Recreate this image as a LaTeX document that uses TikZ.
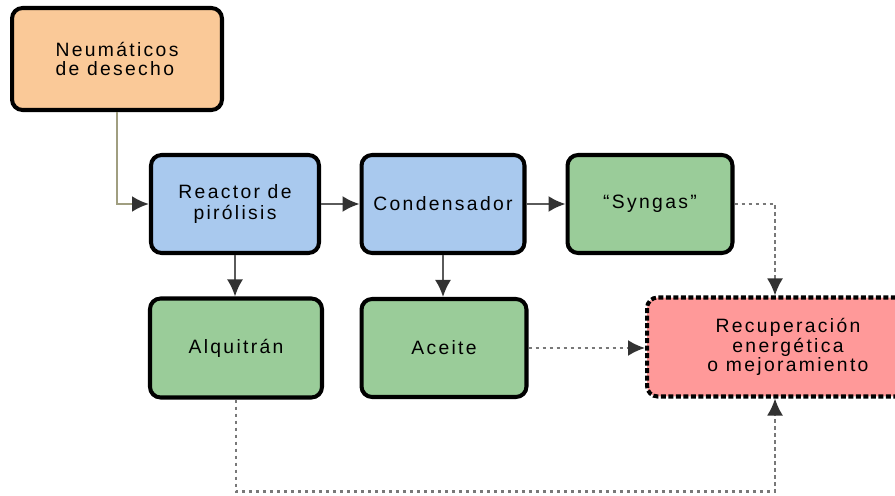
\documentclass[tikz,border=0pt]{standalone}
\usepackage{fontspec}
\setmainfont{Liberation Sans}[LetterSpace=12]
\usepackage{xcolor}
\usepackage{tikz}
\usetikzlibrary{calc, positioning, arrows.meta}

\definecolor{boxorange}{RGB}{250,201,152}
\definecolor{boxblue}{RGB}{169,201,238}
\definecolor{boxgreen}{RGB}{154,204,153}
\definecolor{boxred}{RGB}{255,153,153}
\definecolor{linegray}{RGB}{90,90,90}
\definecolor{dotgray}{RGB}{120,120,120}
\definecolor{linefeed}{RGB}{160,158,128}
\definecolor{tipgray}{RGB}{50,50,50}

\tikzset{
	block/.style={draw=black, line width=2.3pt, rounded corners=6pt, align=center,
		font=\fontsize{11}{11}\selectfont, inner sep=2pt},
	flow/.style={-{Latex[length=0.34cm, width=0.32cm, color=tipgray]}, line width=1.2pt, draw=linegray},
	dotflow/.style={flow, draw=dotgray, dash pattern=on 0.07cm off 0.07cm},
}

\begin{document}
\begin{tikzpicture}[x=0.02cm, y=0.02cm]
		\clip (0,0) rectangle (895,-496);
		\useasboundingbox (0,0) rectangle (895,-496);

		\node[block, fill=boxorange, minimum width=4.2cm, minimum height=2.04cm, align=left] (neu) at (117,-59) {Neumáticos\\de desecho};
		\node[block, fill=boxblue, minimum width=3.36cm, minimum height=1.96cm, font=\fontsize{11}{12.5}\selectfont] (reactor) at (235,-204) {Reactor de\\pirólisis};
		\node[block, fill=boxblue, minimum width=3.26cm, minimum height=1.96cm] (cond) at (443,-204) {Condensador};
		\node[block, fill=boxgreen, minimum width=3.3cm, minimum height=1.96cm] (syngas) at (650,-204) {“Syngas”};
		\node[block, fill=boxgreen, minimum width=3.44cm, minimum height=1.98cm] (alq) at (236,-348) {Alquitrán};
		\node[block, fill=boxgreen, minimum width=3.3cm, minimum height=1.96cm] (aceite) at (444,-348) {Aceite};
		\node[block, fill=boxred, dash pattern=on 0.1cm off 0.05cm, minimum width=5.64cm, minimum height=1.98cm] (rec) at (788,-347) {Recuperación\\energética\\o mejoramiento};

		\draw[flow, draw=linefeed, line width=1.5pt] (neu.south) |- (reactor.west);
		\draw[flow] (reactor) -- (cond);
		\draw[flow] (cond) -- (syngas);
		\draw[flow] (reactor.south) -- (reactor.south |- alq.north);
		\draw[flow] (cond.south) -- (cond.south |- aceite.north);

		\draw[dotflow] (syngas.east) -| ([xshift=-0.26cm]rec.north);
		\draw[dotflow] (aceite.east) -- (aceite.east -| rec.west);
		\draw[dotflow] (alq.south) -- ++(0,-92) -| ([xshift=-0.26cm]rec.south);

	\end{tikzpicture}
\end{document}
